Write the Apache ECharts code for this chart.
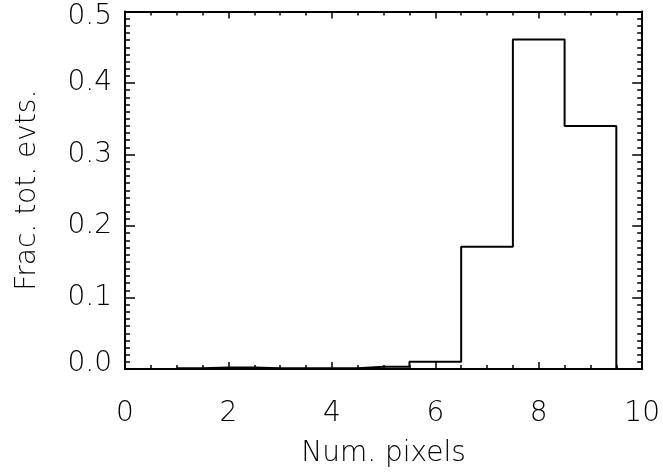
<!DOCTYPE html>
<html>
<head>
<meta charset="utf-8">
<script src="https://cdn.jsdelivr.net/npm/echarts@6/dist/echarts.min.js"></script>
<style>
html,body{margin:0;padding:0;background:#fff;}
#chart{width:663px;height:473px;}
</style>
</head>
<body>
<div id="chart"></div>
<script>
var numPixels = [1, 2, 3, 4, 5, 6, 7, 8, 9, 10];
var fracEvents = [0.001, 0.002, 0.001, 0.001, 0.003, 0.010, 0.171, 0.461, 0.340, 0.0];
var xTitle = 'Num. pixels';
var yTitle = 'Frac. tot. evts.';

var FONT = '"DejaVu Sans ExtraLight", "DejaVu Sans Light", "DejaVu Sans", sans-serif';
var WEIGHT = 200;
var chart = echarts.init(document.getElementById('chart'), null, {renderer: 'canvas'});

var axisLine = {show: true, onZero: false, lineStyle: {color: '#000', width: 2}};
function xAx(pos, showLabel) {
  return {
    type: 'value', position: pos, min: 0, max: 10, interval: 2,
    axisLine: axisLine,
    axisTick: {show: true, inside: true, length: 7, lineStyle: {color: '#000', width: 1.5}},
    minorTick: {show: true, splitNumber: 4, length: 4, lineStyle: {color: '#000', width: 1.5}},
    splitLine: {show: false},
    axisLabel: {show: showLabel, color: '#000', fontFamily: FONT, fontWeight: WEIGHT, fontSize: 28, margin: 31,
      formatter: function (v) { return String(Math.round(v)); }},
    name: showLabel ? xTitle : '',
    nameLocation: 'middle', nameGap: 71,
    nameTextStyle: {color: '#000', fontFamily: FONT, fontWeight: WEIGHT, fontSize: 28}
  };
}
function yAx(pos, showLabel) {
  return {
    type: 'value', position: pos, min: 0, max: 0.5, interval: 0.1,
    axisLine: axisLine,
    axisTick: {show: true, inside: true, length: 10, lineStyle: {color: '#000', width: 1.5}},
    minorTick: {show: true, splitNumber: 10, length: 5, lineStyle: {color: '#000', width: 1.5}},
    splitLine: {show: false},
    axisLabel: {show: showLabel, color: '#000', fontFamily: FONT, fontWeight: WEIGHT, fontSize: 28, margin: 13,
      lineHeight: 10,
      verticalAlignMinLabel: 'bottom', verticalAlignMaxLabel: 'top',
      formatter: function (v) { return v.toFixed(1); }},
    name: showLabel ? yTitle : '',
    nameLocation: 'middle', nameGap: 83,
    nameTextStyle: {color: '#000', fontFamily: FONT, fontWeight: WEIGHT, fontSize: 28}
  };
}

chart.setOption({
  backgroundColor: '#fff',
  animation: false,
  grid: {left: 125, right: 18, top: 11.5, bottom: 95.5, containLabel: false},
  xAxis: [xAx('bottom', true), xAx('top', false)],
  yAxis: [yAx('left', true), yAx('right', false)],
  series: [{
    type: 'line', step: 'middle', xAxisIndex: 0, yAxisIndex: 0,
    symbol: 'none',
    lineStyle: {color: '#000', width: 2},
    data: numPixels.map(function (x, i) { return [x, fracEvents[i]]; })
  }]
});
</script>
</body>
</html>
